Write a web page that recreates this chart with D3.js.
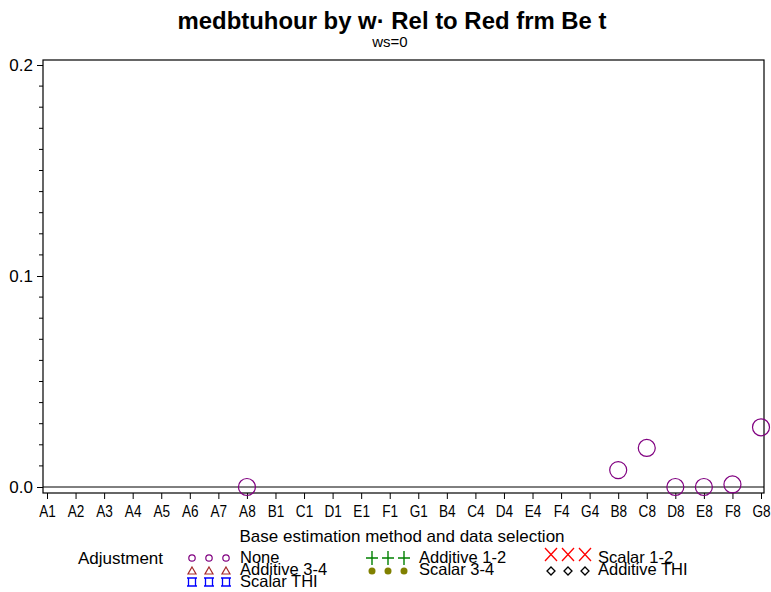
<!DOCTYPE html>
<html>
<head>
<meta charset="utf-8">
<script src="https://cdn.jsdelivr.net/npm/d3@7"></script>
<style>
  html, body { margin: 0; padding: 0; background: #fff; }
  svg { display: block; font-family: Arial, "Liberation Sans", Helvetica, sans-serif; }
</style>
</head>
<body>
<svg id="chart" width="771" height="592"></svg>
<script>
// Categories: base estimation method + data selection
const categories = ["A1","A2","A3","A4","A5","A6","A7","A8",
  "B1","C1","D1","E1","F1","G1",
  "B4","C4","D4","E4","F4","G4",
  "B8","C8","D8","E8","F8","G8"];

// Series "None" (only the non-missing points)
const noneCats   = ["A8","B8","C8","D8","E8","F8","G8"];
const noneValues = [0.0, 0.008, 0.0185, 0.0, 0.0, 0.0012, 0.0283];

const yMajorTicks = [0, 0.1, 0.2];
const yMinorTicks = d3.range(1, 21).filter(i => i % 10 !== 0).map(i => i / 100);

const legendItems = [
  { label: "None",         symbol: "circle",   color: "#800080", col: 0, row: 0 },
  { label: "Additive 1-2", symbol: "plus",     color: "#008000", col: 1, row: 0 },
  { label: "Scalar 1-2",   symbol: "x",        color: "#ff0000", col: 2, row: 0 },
  { label: "Additive 3-4", symbol: "triangle", color: "#a52a2a", col: 0, row: 1 },
  { label: "Scalar 3-4",   symbol: "dot",      color: "#808000", col: 1, row: 1 },
  { label: "Additive THI", symbol: "diamond",  color: "#000000", col: 2, row: 1 },
  { label: "Scalar THI",   symbol: "square",   color: "#0000ff", col: 0, row: 2 }
];

const svg = d3.select("#chart");
const frame = { left: 43, right: 764, top: 60, bottom: 493 };
const FONT = "Arial, 'Liberation Sans', sans-serif";

const x = d3.scalePoint().domain(categories).range([47, 761]);
const y = d3.scaleLinear().domain([0, 0.2]).range([487, 65]);

// Title
svg.append("text").attr("x", 392).attr("y", 29).attr("text-anchor", "middle")
  .attr("font-size", 23).attr("font-weight", "bold").attr("textLength", 429)
  .attr("lengthAdjust", "spacingAndGlyphs")
  .text("medbtuhour by w\u00B7  Rel to Red frm Be  t");
svg.append("text").attr("x", 390).attr("y", 47).attr("text-anchor", "middle")
  .attr("font-size", 15).text("ws=0");

// Frame
svg.append("rect").attr("x", frame.left).attr("y", frame.top)
  .attr("width", frame.right - frame.left).attr("height", frame.bottom - frame.top)
  .attr("fill", "none").attr("stroke", "#000").attr("stroke-width", 1.2);

// Zero reference line
svg.append("line").attr("x1", frame.left).attr("x2", frame.right)
  .attr("y1", y(0)).attr("y2", y(0)).attr("stroke", "#000").attr("stroke-width", 1);

// Y axis
const yAxis = svg.append("g").attr("transform", `translate(${frame.left},0)`)
  .call(d3.axisLeft(y).tickValues(yMajorTicks).tickFormat(d3.format(".1f"))
    .tickSize(6).tickPadding(4));
yAxis.select(".domain").remove();
yAxis.selectAll("text").attr("font-size", 17).attr("font-family", FONT).attr("fill", "#000");
svg.append("g").attr("transform", `translate(${frame.left},0)`)
  .selectAll("line").data(yMinorTicks).join("line")
  .attr("x1", -4).attr("x2", 0).attr("y1", d => y(d)).attr("y2", d => y(d))
  .attr("stroke", "#000");

// X axis: tall, horizontally condensed labels
const xAxis = svg.append("g").attr("transform", `translate(0,${frame.bottom})`)
  .call(d3.axisBottom(x).tickSize(6).tickPadding(6));
xAxis.select(".domain").remove();
xAxis.selectAll("text").attr("font-size", 17).attr("font-family", FONT).attr("fill", "#000")
  .attr("transform", "scale(0.8,1)");

svg.append("text").attr("x", 402).attr("y", 542).attr("text-anchor", "middle")
  .attr("font-size", 17).text("Base estimation method and data selection");

// Points
svg.append("g").selectAll("circle").data(noneCats.map((c, i) => ({ c, v: noneValues[i] })))
  .join("circle")
  .attr("cx", d => x(d.c)).attr("cy", d => y(d.v)).attr("r", 8.5)
  .attr("fill", "none").attr("stroke", "#800080").attr("stroke-width", 1.2);

// Legend
svg.append("text").attr("x", 78).attr("y", 564).attr("font-size", 17).text("Adjustment");

const colSym = [[192, 209, 226], [372, 388, 404], [551, 568, 585]];
const colText = [240, 419, 598];
const rowSymY = [558, 571, 582];
const rowTextY = [563, 575, 587];

function drawSymbol(g, type, cx, cy, color) {
  if (type === "circle") {
    g.append("circle").attr("cx", cx).attr("cy", cy).attr("r", 3.2)
      .attr("fill", "none").attr("stroke", color).attr("stroke-width", 1.2);
  } else if (type === "triangle") {
    g.append("path").attr("d", `M${cx},${cy - 4}L${cx + 4},${cy + 3}L${cx - 4},${cy + 3}Z`)
      .attr("fill", "none").attr("stroke", color).attr("stroke-width", 1.2);
  } else if (type === "square") {
    g.append("path").attr("d",
      `M${cx - 5},${cy - 4}H${cx + 5}M${cx - 5},${cy + 4}H${cx + 5}` +
      `M${cx - 3.5},${cy - 4}V${cy + 4}M${cx + 3.5},${cy - 4}V${cy + 4}`)
      .attr("fill", "none").attr("stroke", color).attr("stroke-width", 1.3);
  } else if (type === "plus") {
    g.append("path").attr("d", `M${cx - 6},${cy}H${cx + 6}M${cx},${cy - 7}V${cy + 7}`)
      .attr("fill", "none").attr("stroke", color).attr("stroke-width", 1.4);
  } else if (type === "dot") {
    g.append("circle").attr("cx", cx).attr("cy", cy).attr("r", 3.5).attr("fill", color);
  } else if (type === "x") {
    g.append("path").attr("d", `M${cx - 6},${cy - 7}L${cx + 6},${cy + 6}M${cx + 6},${cy - 7}L${cx - 6},${cy + 6}`)
      .attr("fill", "none").attr("stroke", color).attr("stroke-width", 1.3);
  } else if (type === "diamond") {
    g.append("path").attr("d", `M${cx},${cy - 4}L${cx + 4},${cy}L${cx},${cy + 4}L${cx - 4},${cy}Z`)
      .attr("fill", "none").attr("stroke", color).attr("stroke-width", 1.3);
  }
}

const lg = svg.append("g");
legendItems.forEach(it => {
  const cy = rowSymY[it.row];
  colSym[it.col].forEach(cx => drawSymbol(lg, it.symbol, cx, it.symbol === "x" ? cy - 3 : cy, it.color));
  lg.append("text").attr("x", colText[it.col]).attr("y", rowTextY[it.row])
    .attr("font-size", 16.5).text(it.label);
});
</script>
</body>
</html>
